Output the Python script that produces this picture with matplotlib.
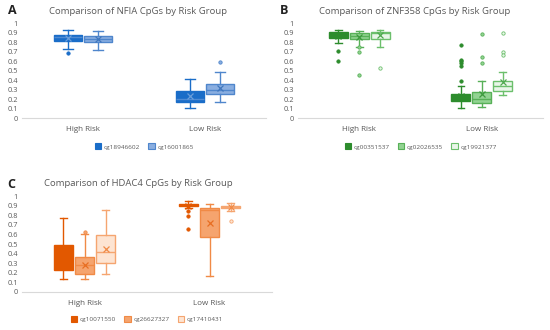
import matplotlib
matplotlib.use('Agg')
import matplotlib.pyplot as plt
from matplotlib.patches import Patch

plt.rcParams['font.family'] = ['Open Sans', 'DejaVu Sans']

groups = ['High Risk', 'Low Risk']
yticks = [0, 0.1, 0.2, 0.3, 0.4, 0.5, 0.6, 0.7, 0.8, 0.9, 1]
ytick_labels = ['0', '0.1', '0.2', '0.3', '0.4', '0.5', '0.6', '0.7', '0.8', '0.9', '1']

# ---- Panel A: NFIA (per series: [High, Low]) ----
A_title = 'Comparison of NFIA CpGs by Risk Group'
A_series = ['cg18946602', 'cg16001865']
A_whislo = [[0.73, 0.11], [0.72, 0.17]]
A_q1 = [[0.81, 0.165], [0.80, 0.25]]
A_med = [[0.85, 0.20], [0.835, 0.30]]
A_q3 = [[0.877, 0.28], [0.867, 0.355]]
A_whishi = [[0.93, 0.415], [0.92, 0.48]]
A_mean = [[0.84, 0.23], [0.83, 0.32]]
A_fliers = [[[0.684], []], [[], [0.586]]]

# ---- Panel B: ZNF358 ----
B_title = 'Comparison of ZNF358 CpGs by Risk Group'
B_series = ['cg00351537', 'cg02026535', 'cg19921377']
B_whislo = [[0.79, 0.105], [0.75, 0.116], [0.747, 0.239]]
B_q1 = [[0.842, 0.182], [0.835, 0.158], [0.835, 0.28]]
B_med = [[0.877, 0.22], [0.866, 0.20], [0.90, 0.333]]
B_q3 = [[0.905, 0.253], [0.89, 0.27], [0.905, 0.386]]
B_whishi = [[0.923, 0.34], [0.916, 0.386], [0.93, 0.48]]
B_mean = [[0.86, 0.23], [0.85, 0.253], [0.874, 0.379]]
B_fliers = [[[0.709, 0.596], [0.765, 0.614, 0.596, 0.579, 0.544, 0.393]],
            [[0.744, 0.69, 0.456], [0.888, 0.642, 0.579]],
            [[0.526], [0.895, 0.69, 0.663]]]

# ---- Panel C: HDAC4 ----
C_title = 'Comparison of HDAC4 CpGs by Risk Group'
C_series = ['cg10071550', 'cg26627327', 'cg17410431']
C_whislo = [[0.132, 0.878], [0.132, 0.164], [0.188, 0.84]]
C_q1 = [[0.233, 0.90], [0.19, 0.575], [0.303, 0.87]]
C_med = [[0.35, 0.91], [0.286, 0.854], [0.418, 0.885]]
C_q3 = [[0.488, 0.916], [0.362, 0.88], [0.592, 0.90]]
C_whishi = [[0.767, 0.944], [0.60, 0.92], [0.85, 0.927]]
C_mean = [[0.35, 0.90], [0.285, 0.72], [0.453, 0.888]]
C_fliers = [[[], [0.843, 0.794, 0.659]], [[0.627], []], [[], [0.742]]]

# styles: (face, edge, median, mean, flierface)
A_styles = [('#1a6dc8', '#1a6dc8', '#4f8bd3', '#6a9edb', '#1a6dc8'),
            ('#8aaee0', '#4f86cc', '#4f86cc', '#3f76bd', '#8aaee0')]
B_styles = [('#2d8c2d', '#2d8c2d', '#2d8c2d', '#2d8c2d', '#2d8c2d'),
            ('#92d392', '#58b058', '#58b058', '#3d9a3d', '#92d392'),
            ('#e9f6e9', '#6cbf6c', '#6cbf6c', '#4ea84e', '#e9f6e9')]
C_styles = [('#e25800', '#e25800', '#e25800', '#e25800', '#e25800'),
            ('#f5a46e', '#f08a46', '#f08a46', '#e86e22', '#f5a46e'),
            ('#fde4d2', '#f5a570', '#f5a570', '#f08a46', '#fde4d2')]

TXT = '#595959'
fig = plt.figure(figsize=(5.5, 3.3), dpi=100)
W, H = 550.0, 330.0


def make_ax(left, top, right, bottom):
    return fig.add_axes([left / W, 1 - bottom / H, (right - left) / W, (bottom - top) / H])


def panel(ax, series, wl, q1, med, q3, wh, mean, fl, styles, width, offsets):
    for i, s in enumerate(series):
        fc, ec, mc, mnc, ff = styles[i]
        stats = []
        for g in range(2):
            stats.append(dict(med=med[i][g], q1=q1[i][g], q3=q3[i][g],
                              whislo=wl[i][g], whishi=wh[i][g], mean=mean[i][g],
                              fliers=fl[i][g]))
        ax.bxp(stats, positions=[g + offsets[i] for g in range(2)], widths=width,
               patch_artist=True, showmeans=True, meanline=False,
               capwidths=width * 0.35,
               boxprops=dict(facecolor=fc, edgecolor=ec, linewidth=1.0),
               medianprops=dict(color=mc, linewidth=1.0),
               whiskerprops=dict(color=ec, linewidth=1.0),
               capprops=dict(color=ec, linewidth=1.0),
               meanprops=dict(marker='x', markeredgecolor=mnc, markersize=4, markeredgewidth=0.9),
               flierprops=dict(marker='o', markerfacecolor=ff, markeredgecolor=ec,
                               markersize=2.4, markeredgewidth=0.6))
    ax.set_xlim(-0.5, 1.5)
    ax.set_ylim(0, 1)
    ax.set_yticks(yticks)
    ax.set_yticklabels(ytick_labels, fontsize=5.3, color=TXT)
    ax.set_xticks([0, 1])
    ax.set_xticklabels(groups, fontsize=5.8, color=TXT)
    ax.tick_params(length=0, pad=3)
    ax.tick_params(axis='x', pad=6)
    for sp in ['top', 'left', 'right']:
        ax.spines[sp].set_visible(False)
    ax.spines['bottom'].set_color('#d9d9d9')
    ax.spines['bottom'].set_linewidth(0.8)


def legend(ax, series, styles, y):
    handles = [Patch(facecolor=st[0], edgecolor=st[1], linewidth=0.8) for st in styles]
    ax.legend(handles, series, loc='center', bbox_to_anchor=(0.5, y), ncol=len(series),
              frameon=False, fontsize=4.6, handlelength=1.0, handleheight=1.0,
              columnspacing=1.3, handletextpad=0.4, labelcolor=TXT)


axA = make_ax(22, 23, 266, 118)
panel(axA, A_series, A_whislo, A_q1, A_med, A_q3, A_whishi, A_mean, A_fliers,
      A_styles, 0.23, [-0.125, 0.125])
legend(axA, A_series, A_styles, -0.3)

axB = make_ax(298, 23, 543, 118)
panel(axB, B_series, B_whislo, B_q1, B_med, B_q3, B_whishi, B_mean, B_fliers,
      B_styles, 0.155, [-0.17, 0.0, 0.17])
legend(axB, B_series, B_styles, -0.3)

axC = make_ax(22, 196, 272, 292)
panel(axC, C_series, C_whislo, C_q1, C_med, C_q3, C_whishi, C_mean, C_fliers,
      C_styles, 0.155, [-0.17, 0.0, 0.17])
legend(axC, C_series, C_styles, -0.28)

fig.text(138 / W, 1 - 11 / H, A_title, ha='center', va='center', fontsize=6.8, color=TXT)
fig.text(415 / W, 1 - 11 / H, B_title, ha='center', va='center', fontsize=6.8, color=TXT)
fig.text(138 / W, 1 - 183 / H, C_title, ha='center', va='center', fontsize=6.8, color=TXT)
fig.text(8 / W, 1 - 11 / H, 'A', ha='left', va='center', fontsize=9, fontweight='bold', color='#222222')
fig.text(280 / W, 1 - 11 / H, 'B', ha='left', va='center', fontsize=9, fontweight='bold', color='#222222')
fig.text(7 / W, 1 - 185 / H, 'C', ha='left', va='center', fontsize=9, fontweight='bold', color='#222222')

fig.savefig('out.png', dpi=100, facecolor='white')
